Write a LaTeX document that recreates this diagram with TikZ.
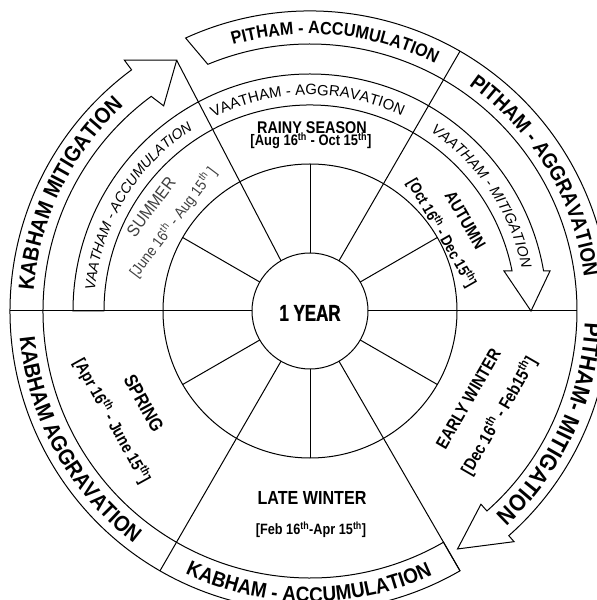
\documentclass[tikz,border=0pt]{standalone}
\usepackage{fontspec}
\setmainfont{Liberation Sans}
\newfontfamily\secfont{Liberation Sans}[FakeStretch=0.85]
\newfontfamily\outfont{Liberation Sans}[FakeStretch=0.9]
\newfontfamily\yearfont{Liberation Sans}[FakeStretch=0.74,FakeBold=1]
\newfontfamily\sumfont{Liberation Sans}[FakeStretch=0.9]
\usetikzlibrary{decorations.text}
\newcommand\secA[1]{\secfont\bfseries\fontsize{#1}{#1}\selectfont}
\newcommand\sumA[1]{\sumfont\fontsize{#1}{#1}\selectfont}
\newcommand\thsup{\textsuperscript{th}}
\newcommand\fPAcc{\outfont\bfseries\fontsize{18}{18}\selectfont}
\newcommand\fPAgg{\outfont\bfseries\fontsize{21}{21}\selectfont}
\newcommand\fPMit{\outfont\bfseries\fontsize{23.5}{23.5}\selectfont}
\newcommand\fKMit{\outfont\bfseries\fontsize{22.1}{22.1}\selectfont}
\newcommand\fKAgg{\outfont\bfseries\fontsize{22.1}{22.1}\selectfont}
\newcommand\fKAcc{\outfont\bfseries\fontsize{21.1}{21.1}\selectfont}
\newcommand\fVAgg{\rmfamily\fontsize{15}{15}\selectfont}
\newcommand\fVAcc{\rmfamily\itshape\fontsize{14.3}{14.3}\selectfont}
\newcommand\fVMit{\rmfamily\itshape\fontsize{14.65}{14.65}\selectfont}
\newcommand\arctext[5]{\path[decorate,decoration={text along path,text align=center,text={|#1|#5}}] (#3:#2) arc[start angle=#3,end angle=#4,radius=#2];}
\begin{document}
\begin{tikzpicture}[x=1bp,y=1bp,line width=1bp,
  sec/.style={inner sep=0pt,align=center}]
\useasboundingbox (-310,-289) rectangle (287,311);
\fill[white] (-310,-289) rectangle (287,311);
% circles
\draw (0,0) circle[radius=58];
\draw (0,0) circle[radius=147];
% spokes
\foreach \a in {30,90,...,330} \draw (\a:58) -- (\a:147);
% sector boundaries
\draw (0:58) -- (0:267);
\draw (60:58) -- (60:300);
\draw (120:58) -- (118:284);
\draw (180:58) -- (180:300);
\draw (240:58) -- (240:300);
\draw (300:58) -- (300:300);
% vaatham ring with arrow
\draw (180:206) -- (180:237) arc[start angle=180,end angle=9.72,radius=237]
  -- (240,40) -- (221,0) -- (194,40) -- (11.2:206)
  arc[start angle=11.2,end angle=180,radius=206] -- cycle;
% pitham ring with arrow
\draw (114.5:300) arc[start angle=114.5,end angle=-48.5,radius=300]
  -- (-48.5:308) -- (-58.2:280) -- (-48.5:258) -- (-48.5:267)
  arc[start angle=-48.5,end angle=112.5,radius=267] -- cycle;
% kabham ring with arrow
\draw (300:300) arc[start angle=300,end angle=126.5,radius=300]
  -- (126.5:312) -- (118:284) -- (125.5:252) -- (126.5:267)
  arc[start angle=126.5,end angle=300,radius=267] -- cycle;
% outer texts
\arctext{\fPAcc}{277}{124.65}{44.65}{PITHAM - ACCUMULATION}
\arctext{\fPAgg}{276}{71}{-9}{PITHAM - AGGRAVATION}
\arctext{\fPMit}{275}{20}{-70}{PITHAM- MITIGATION}
\arctext{\fKMit}{277}{194}{114}{KABHAM MITIGATION}
\arctext{\fKAgg}{291.4}{169}{249}{KABHAM AGGRAVATION}
\arctext{\fKAcc}{291}{229.75}{309.75}{KABHAM - ACCUMULATION}
% vaatham texts
\arctext{\fVAgg}{216}{130.7}{50.7}{VAATHAM - AGGRAVATION}
\arctext{\fVAcc}{216}{188.75}{108.75}{VAATHAM - ACCUMULATION}
\arctext{\fVMit}{216}{73.75}{-6.25}{VAATHAM - MITIGATION}
% center
\node[sec] (year) at (0,-2) {\yearfont\bfseries\fontsize{23}{23}\selectfont 1 YEAR};
% seasons
\node[sec] (rainy) at (2,183.5) {\secA{17}RAINY SEASON};
\node[sec] (rainyd) at (1,170) {\secA{15.3}[Aug 16\thsup{} - Oct 15\thsup]};
\node[sec] (late) at (2,-187) {\secA{19}LATE WINTER};
\node[sec] (lated) at (1,-219) {\secA{15}[Feb 16\thsup-Apr 15\thsup]};
\node[sec,rotate=-61] (spring) at (209:190) {\secA{19}SPRING};
\node[sec,rotate=-61] (springd) at (209:226) {\secA{16.8}[Apr 16\thsup{} - June 15\thsup]};
\node[sec,rotate=60] (early) at (-29:181) {\secA{17.6}EARLY WINTER};
\node[sec,rotate=60] (earlyd) at (-29:216) {\secA{17.3}[Dec 16\thsup{} - Feb15\thsup]};
\node[sec,rotate=-60] (autumn) at (30.4:180) {\secA{17.4}AUTUMN};
\node[sec,rotate=-60] (autumnd) at (30.6:153) {\secA{15.6}[Oct 16\thsup{} - Dec 15\thsup]};
\node[sec,rotate=53,text=black!75] (summer) at (146.8:190) {\sumA{17.3}SUMMER};
\node[sec,rotate=53,text=black!75] (summerd) at (147:163) {\sumA{15.3}[June 16\thsup{} - Aug 15\thsup{} ]};
\end{tikzpicture}
\end{document}
